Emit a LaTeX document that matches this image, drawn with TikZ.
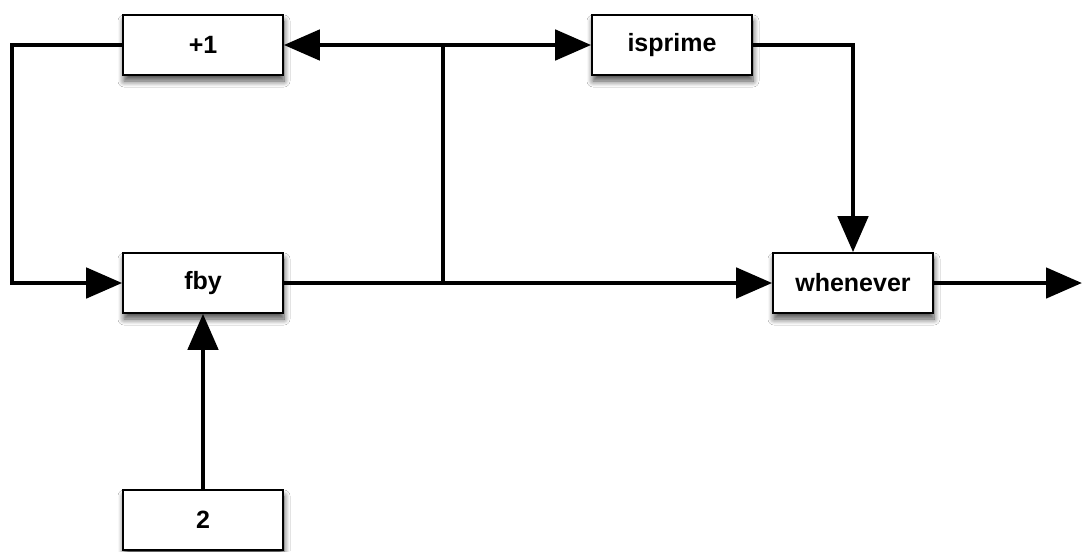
\documentclass[tikz,border=0pt]{standalone}
\usepackage{fontspec}
\setmainfont{Liberation Sans}
\usetikzlibrary{arrows.meta,shadows.blur}
\begin{document}
\begin{tikzpicture}[x=1pt,y=-1pt,
  blk/.style={draw=black,line width=1.6pt,fill=white,minimum width=160pt,minimum height=60pt,inner sep=0pt,
    font=\fontsize{25}{27}\selectfont\bfseries,
    blur shadow={shadow xshift=1pt,shadow yshift=-6pt,shadow blur steps=8,shadow blur radius=6pt,shadow opacity=70}},
  wire/.style={line width=4.8pt},
  arr/.style={wire,-{Triangle[length=36pt,width=30pt]}}]
\useasboundingbox (0,0) rectangle (1083,551);
\fill[white] (0,0) rectangle (1083,551);
\node[blk] (plus) at (203,45) {+1};
\node[blk] (prime) at (672,45) {isprime};
\node[blk] (fby) at (203,283) {fby};
\node[blk] (when) at (853,283) {whenever};
\node[blk] (two) at (203,520) {2};
\coordinate (jt) at (443,45);
\coordinate (jb) at (443,283);
\coordinate (out) at (1082,283);
\draw[arr] (plus.west) -- (12,45) -- (12,283) -- (fby.west);
\draw[wire] (jt) -- (jb);
\draw[arr] (jt) -- (plus.east);
\draw[arr] (jt) -- (prime.west);
\draw[arr] (fby.east) -- (when.west);
\draw[arr] (prime.east) -| (when.north);
\draw[arr] (when.east) -- (out);
\draw[arr] (two.north) -- (fby.south);
\end{tikzpicture}
\end{document}
